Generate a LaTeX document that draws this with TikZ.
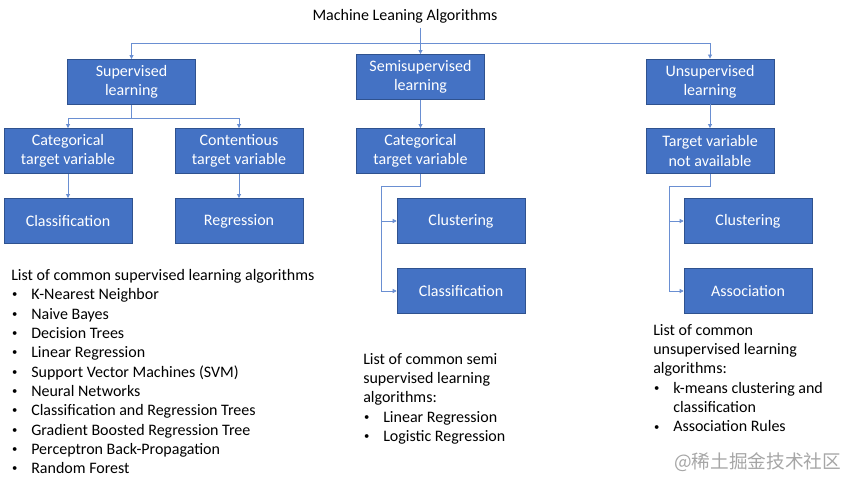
\documentclass[tikz,border=0pt]{standalone}
\usepackage{fontspec}
\setmainfont{Carlito}
\newfontfamily\cjkfont{Noto Sans CJK SC}
\usetikzlibrary{arrows.meta}
\definecolor{boxblue}{HTML}{4472C4}
\definecolor{boxedge}{HTML}{2F528F}
\definecolor{linkblue}{HTML}{6A8FD2}
\tikzset{
  mlbox/.style={draw=boxedge, fill=boxblue, text=white, minimum width=96pt, minimum height=34pt,
    align=center, inner sep=1pt, font=\fontsize{12}{14.3}\selectfont},
  link/.style={draw=linkblue, line width=0.6pt, ->},
  listtext/.style={anchor=north west, align=left, inner sep=0pt, font=\fontsize{12}{14.5}\selectfont}
}
\newcommand{\bul}{\makebox[15pt][l]{\hspace{0.6pt}\raisebox{0.25ex}{\fontsize{8}{8}\selectfont\textbullet}}}
\begin{document}
\begin{tikzpicture}[x=0.75pt,y=-0.75pt,>={Triangle[length=3pt,width=3pt]}]
\useasboundingbox (0,0) rectangle (850,488);
\node[font=\fontsize{12}{14.3}\selectfont] (title) at (405,16) {Machine Leaning Algorithms};
% first level
\node[mlbox] (sup) at (131.5,82) {Supervised\\learning};
\node[mlbox] (semi) at (420.5,77) {Semisupervised\\learning};
\node[mlbox] (unsup) at (710,81.5) {Unsupervised\\learning};
% second level
\node[mlbox] (cat1) at (68,151) {Categorical\\target variable};
\node[mlbox] (cont) at (239,151) {Contentious\\target variable};
\node[mlbox] (cat2) at (420.5,151) {Categorical\\target variable};
\node[mlbox] (target) at (710,151) {Target variable\\not available};
% leaves
\node[mlbox] (classif1) at (68,221) {Classification};
\node[mlbox] (regr) at (239,221) {Regression};
\node[mlbox] (clust1) at (461,221) {Clustering};
\node[mlbox] (classif2) at (461,291) {Classification};
\node[mlbox] (clust2) at (748,221) {Clustering};
\node[mlbox] (assoc) at (748,291) {Association};
\coordinate (bar) at (420.5,43);
\coordinate (semitrunk) at (381,186);
\coordinate (unsuptrunk) at (669,186);
% connectors
\draw[link] (title.south -| semi.north) -- (semi.north);
\draw[link] (semi.north |- bar) -| (sup.north);
\draw[link] (semi.north |- bar) -| (unsup.north);
\draw[link] (sup.south) -- ++(0,13) -| (cat1.north);
\draw[link] (sup.south) -- ++(0,13) -| (cont.north);
\draw[link] (cat1) -- (classif1);
\draw[link] (cont) -- (regr);
\draw[link] (semi) -- (cat2);
\draw[link] (unsup) -- (target);
\draw[link] (cat2.south) |- (semitrunk) |- (clust1.west);
\draw[link] (semitrunk) |- (classif2.west);
\draw[link] (target.south) |- (unsuptrunk) |- (clust2.west);
\draw[link] (unsuptrunk) |- (assoc.west);
% lists
\node[listtext] (suplist) at (11,269) {List of common supervised learning algorithms\\
  \bul K-Nearest Neighbor\\ \bul Naive Bayes\\ \bul Decision Trees\\ \bul Linear Regression\\
  \bul Support Vector Machines (SVM)\\ \bul Neural Networks\\ \bul Classification and Regression Trees\\
  \bul Gradient Boosted Regression Tree\\ \bul Perceptron Back-Propagation\\ \bul Random Forest};
\node[listtext] (semilist) at (363,353) {List of common semi\\ supervised learning\\ algorithms:\\
  \bul Linear Regression\\ \bul Logistic Regression};
\node[listtext] (unsuplist) at (653,324) {List of common\\ unsupervised learning\\ algorithms:\\
  \bul k-means clustering and\\ \makebox[15pt]{}classification\\ \bul Association Rules};
\node[text=black!35, anchor=west, inner sep=0pt, font=\cjkfont\fontsize{14}{14}\selectfont] (mark) at (674,462) {@稀土掘金技术社区};
\end{tikzpicture}
\end{document}
